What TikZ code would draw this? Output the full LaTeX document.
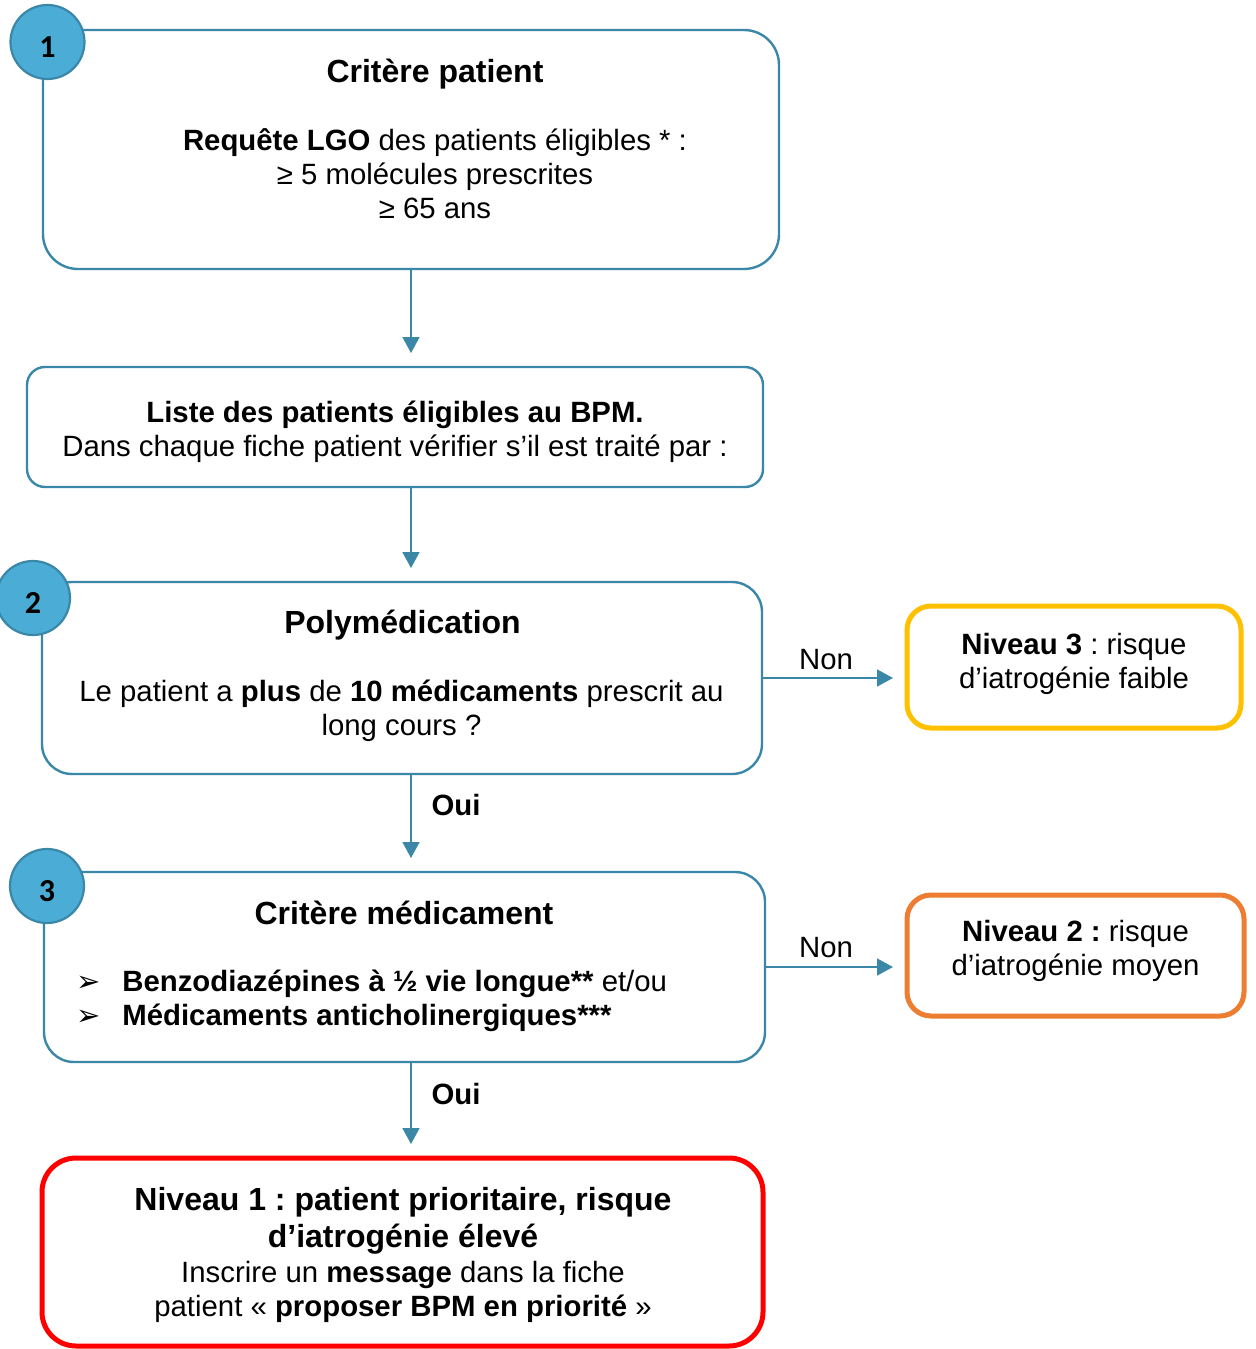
\documentclass[tikz,border=0pt]{standalone}
\usepackage{fontspec}
\setmainfont{Liberation Sans}
\newfontfamily\numfont{Carlito}
\newfontfamily\dingfont{DejaVu Sans}
\usetikzlibrary{arrows.meta}
\definecolor{bl}{RGB}{58,135,168}
\definecolor{blfill}{RGB}{75,172,214}
\definecolor{yel}{RGB}{255,192,0}
\definecolor{org}{RGB}{237,125,49}
\definecolor{rd}{RGB}{255,0,0}
\newcommand{\bodyf}{\frenchspacing\fontsize{14.67}{17}\selectfont}
\newcommand{\headf}{\frenchspacing\fontsize{16}{18.5}\selectfont\bfseries}
\newcommand{\bul}{\makebox[23pt][l]{\dingfont\fontsize{14.5}{14.5}\selectfont ➢}}
\newcommand{\numtxt}[1]{\smash{\raisebox{-7.5pt}{#1}}}
\begin{document}
\begin{tikzpicture}[x=0.5pt,y=-0.5pt,
 box/.style={draw=bl, line width=1.2pt, rectangle, inner sep=0pt, outer sep=0pt},
 lvl/.style={rectangle, line width=2.5pt, inner sep=0pt, outer sep=0pt, rounded corners=12pt},
 num/.style={circle, draw=bl, fill=blfill, line width=1.1pt, minimum size=37pt, inner sep=0pt, font=\numfont\fontsize{16}{16}\selectfont\bfseries},
 txt/.style={align=center, inner sep=0pt, font=\bodyf},
 head/.style={align=center, inner sep=0pt, font=\headf},
 conn/.style={draw=bl, line width=0.8pt, -{Triangle[width=8.5pt,length=8pt]}, shorten >=7pt},
 lab/.style={inner sep=0pt, font=\bodyf}]
\useasboundingbox (0,0) rectangle (1255,1349);
% boxes
\node[box, rounded corners=17.5pt, minimum width=368pt, minimum height=119.5pt] (b1) at (411,149.5) {};
\node[box, rounded corners=9pt, minimum width=368pt, minimum height=60pt] (b2) at (395,427) {};
\node[box, rounded corners=15pt, minimum width=360pt, minimum height=96pt] (b3) at (402,678) {};
\node[box, rounded corners=15pt, minimum width=360.5pt, minimum height=95pt] (b4) at (404.5,967) {};
\node[lvl, draw=rd, rounded corners=17pt, minimum width=360.5pt, minimum height=94pt] (b5) at (402.5,1252) {};
\node[lvl, draw=yel, minimum width=167pt, minimum height=61pt] (n3) at (1074,667) {};
\node[lvl, draw=org, minimum width=168.5pt, minimum height=60.5pt] (n2) at (1075.5,955.5) {};
% connectors
\draw[conn] (b1.south) -- (b1.south |- b2.north);
\draw[conn] (b2.south -| b1.south) -- (b3.north -| b1.south);
\draw[conn] (b3.south -| b1.south) -- (b4.north -| b1.south);
\draw[conn] (b4.south -| b1.south) -- (b5.north -| b1.south);
\draw[conn] (b3.east) -- (b3.east -| n3.west);
\draw[conn] (b4.east) -- (b4.east -| n2.west);
% labels
\node[lab] (non1) at (826,660) {Non};
\node[lab] (non2) at (826,948) {Non};
\node[lab, font=\bodyf\bfseries] (oui1) at (456,805) {Oui};
\node[lab, font=\bodyf\bfseries] (oui2) at (456,1094) {Oui};
% circles
\node[num] (c1) at (47.5,42) {\numtxt{1}};
\node[num] (c2) at (33,598) {\numtxt{2}};
\node[num] (c3) at (47,886) {\numtxt{3}};
% texts
\node[head] (t1a) at (435,74) {Critère patient};
\node[txt] (t1b) at (435,174) {\textbf{Requête LGO} des patients éligibles * :\\≥ 5 molécules prescrites\\≥ 65 ans};
\node[txt] (t2) at (395,432) {\textbf{Liste des patients éligibles au BPM.}\\Dans chaque fiche patient vérifier s’il est traité par :};
\node[head] (t3a) at (402.5,625) {Polymédication};
\node[txt] (t3b) at (401.5,711) {Le patient a \textbf{plus} de \textbf{10 médicaments} prescrit au\\long cours ?};
\node[head] (t4a) at (404,913) {Critère médicament};
\node[txt, align=left, anchor=west] (t4b) at (76,1001) {\bul\textbf{Benzodiazépines à ½ vie longue**} et/ou\\\bul\textbf{Médicaments anticholinergiques***}};
\node[head] (t5a) at (403,1220.5) {Niveau 1 : patient prioritaire, risque\\d’iatrogénie élevé};
\node[txt] (t5b) at (403,1292) {Inscrire un \textbf{message} dans la fiche\\patient « \textbf{proposer BPM en priorité} »};
\node[txt] (t6) at (1074,664) {\textbf{Niveau 3} : risque\\d’iatrogénie faible};
\node[txt] (t7) at (1075.5,951) {\textbf{Niveau 2 :} risque\\d’iatrogénie moyen};
\end{tikzpicture}
\end{document}
